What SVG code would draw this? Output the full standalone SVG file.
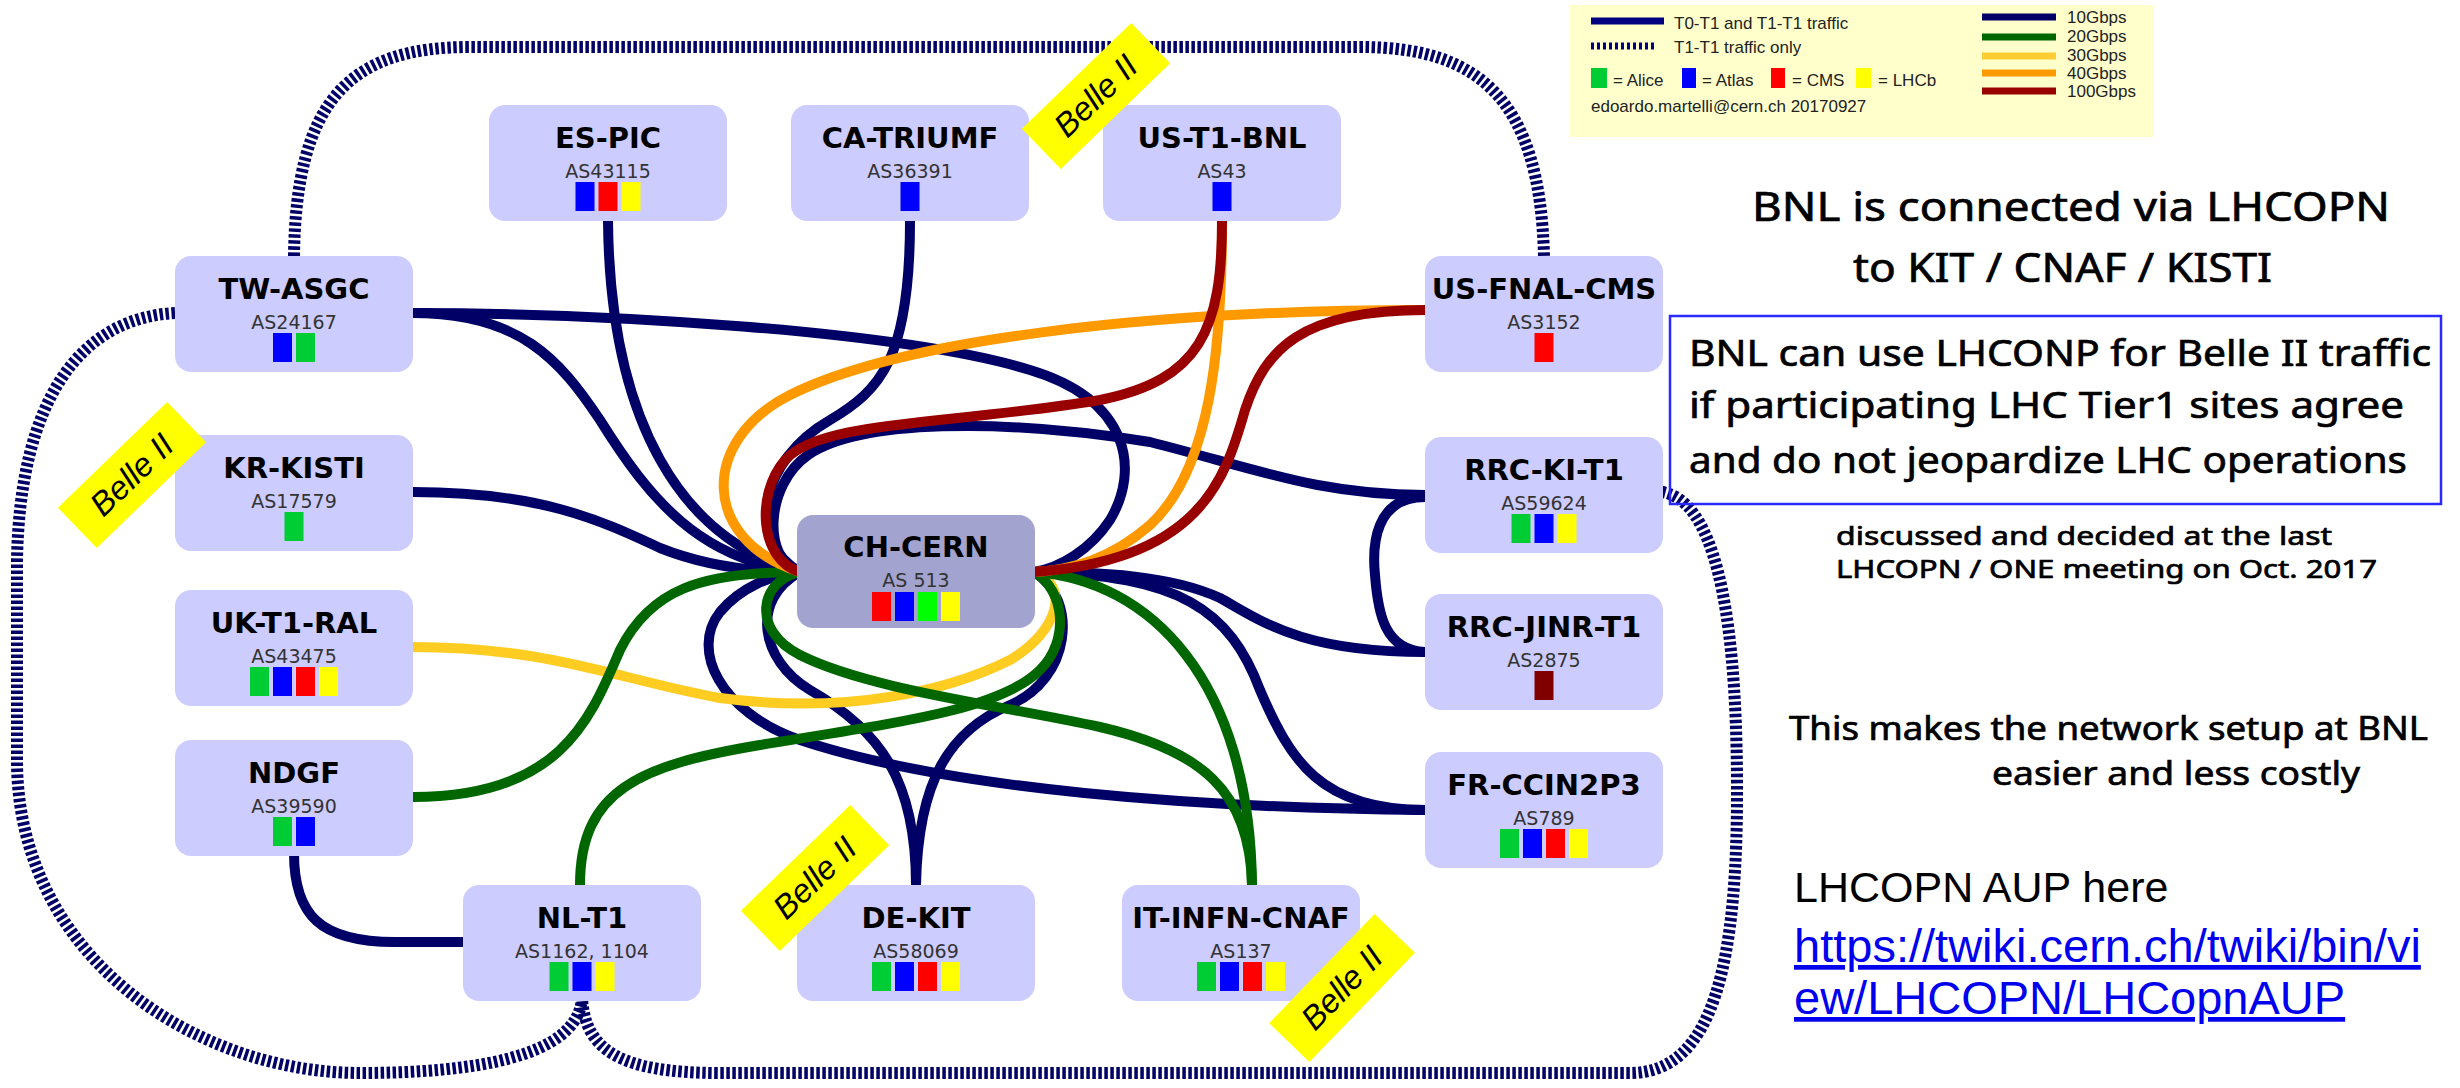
<svg xmlns="http://www.w3.org/2000/svg" width="2460" height="1088" viewBox="0 0 2460 1088">
<style>
.bx{fill:#ccccff}
.cern{fill:#a3a3d0}
.nm{font-family:"DejaVu Sans",sans-serif;font-weight:bold;font-size:29px;text-anchor:middle;fill:#000}
.as{font-family:"DejaVu Sans",sans-serif;font-size:19px;text-anchor:middle;fill:#333}
.al{fill:#00cc33}.at{fill:#0000ff}.cm{fill:#ff0000}.lh{fill:#ffff00}.al2{fill:#00ff00}.mr{fill:#800000}
.c{fill:none;stroke-width:10;stroke-linecap:butt}
.g10{stroke:#000066}.g20{stroke:#006600}.g30{stroke:#ffcc22}.g40{stroke:#ff9900}.g100{stroke:#990000}
.dash{fill:none;stroke:#000066;stroke-width:12;stroke-dasharray:3.5 2.5}
.lg{font-family:"Liberation Sans",Arial,sans-serif;font-size:17px;fill:#222}
.cm2{font-family:"Noto Sans","DejaVu Sans",sans-serif;fill:#000;stroke:#000;stroke-width:0.7}
.aup{font-family:"Liberation Sans",Arial,sans-serif}
</style>
<defs>
<g id="belle"><rect x="-76" y="-28" width="152" height="56" fill="#ffff00"/><text x="0" y="11" font-family="Liberation Sans, Arial, sans-serif" font-style="italic" font-size="33" text-anchor="middle" fill="#000">Belle II</text></g>
</defs>
<rect width="2460" height="1088" fill="#ffffff"/>

<g id="connectors">
  <!-- T1-T1 only dashed loops -->
  <path class="dash" d="M294,256 C296,100 350,47 470,47 L1360,47 C1480,47 1540,100 1544,256"/>
  <path class="dash" d="M175,313 C80,318 20,400 17,560 L17,760 C17,960 200,1073 360,1073 C470,1073 578,1058 582,998"/>
  <path class="dash" d="M1662,492 C1712,500 1736,600 1737,780 C1738,960 1715,1073 1630,1073 L720,1073 C620,1073 585,1050 582,998"/>
  <!-- 10G -->
  <path class="c g10" d="M608,221 C610,420 680,540 800,572"/>
  <path class="c g10" d="M910,221 C910,360 880,390 830,420 C760,460 745,540 800,572"/>
  <path class="c g10" d="M413,313 C520,313 560,360 600,420 C650,500 700,560 800,572"/>
  <path class="c g10" d="M413,313 C600,313 900,330 1030,370 C1130,400 1140,470 1110,520 C1090,550 1060,568 1034,572"/>
  <path class="c g10" d="M413,492 C540,492 600,520 660,548 C710,568 760,572 800,572"/>
  <path class="c g10" d="M1425,495 C1320,495 1260,470 1150,442 C1000,418 860,420 808,455 C765,485 762,560 800,572"/>
  <path class="c g10" d="M1425,497 C1375,497 1372,545 1375,575 C1378,615 1385,650 1425,652"/>
  <path class="c g10" d="M1425,652 C1300,652 1260,620 1220,598 C1170,575 1100,572 1034,572"/>
  <path class="c g10" d="M1425,810 C1320,810 1290,760 1260,690 C1230,610 1180,575 1034,572"/>
  <path class="c g10" d="M1425,810 C1200,808 950,790 800,740 C720,712 690,650 720,612 C740,588 770,575 800,572"/>
  <path class="c g10" d="M916,885 C916,780 880,730 810,690 C760,660 750,600 800,572"/>
  <path class="c g10" d="M916,885 C918,780 950,730 1010,705 C1070,680 1080,600 1034,572"/>
  <path class="c g10" d="M294,853 C294,915 320,942 395,942 L465,942"/>
  <!-- 30G -->
  <path class="c g30" d="M413,647 C550,647 620,680 720,698 C850,715 950,690 1010,660 C1060,630 1070,585 1034,572"/>
  <!-- 20G -->
  <path class="c g20" d="M413,797 C560,797 590,720 620,650 C650,590 700,572 800,572"/>
  <path class="c g20" d="M580,885 C580,790 640,765 760,745 C900,722 1000,710 1040,670 C1070,640 1065,590 1034,572"/>
  <path class="c g20" d="M800,572 C760,580 750,630 800,655 C870,690 1000,705 1100,727 C1200,750 1250,790 1252,885"/>
  <path class="c g20" d="M1034,572 C1150,580 1250,680 1252,885"/>
  <!-- 40G -->
  <path class="c g40" d="M1425,310 C1150,310 900,340 790,395 C700,440 700,540 800,572"/>
  <path class="c g40" d="M1222,221 C1222,350 1210,470 1150,525 C1110,560 1070,570 1034,572"/>
  <!-- 100G -->
  <path class="c g100" d="M1222,221 C1222,330 1200,380 1100,400 C950,425 820,420 785,460 C755,495 760,560 800,572"/>
  <path class="c g100" d="M1425,310 C1300,310 1265,350 1245,410 C1225,480 1200,560 1034,572"/>
</g>

<g id="n-es-pic"><rect class="bx" x="489" y="105" width="238" height="116" rx="16"/><text class="nm" x="608" y="148">ES-PIC</text><text class="as" x="608" y="178">AS43115</text><rect class="at" x="575.5" y="182" width="19" height="29"/><rect class="cm" x="598.5" y="182" width="19" height="29"/><rect class="lh" x="621.5" y="182" width="19" height="29"/></g>
<g id="n-ca-triumf"><rect class="bx" x="791" y="105" width="238" height="116" rx="16"/><text class="nm" x="910" y="148">CA-TRIUMF</text><text class="as" x="910" y="178">AS36391</text><rect class="at" x="900.5" y="182" width="19" height="29"/></g>
<g id="n-us-t1-bnl"><rect class="bx" x="1103" y="105" width="238" height="116" rx="16"/><text class="nm" x="1222" y="148">US-T1-BNL</text><text class="as" x="1222" y="178">AS43</text><rect class="at" x="1212.5" y="182" width="19" height="29"/></g>
<g id="n-tw-asgc"><rect class="bx" x="175" y="256" width="238" height="116" rx="16"/><text class="nm" x="294" y="299">TW-ASGC</text><text class="as" x="294" y="329">AS24167</text><rect class="at" x="273" y="333" width="19" height="29"/><rect class="al" x="296" y="333" width="19" height="29"/></g>
<g id="n-us-fnal-cms"><rect class="bx" x="1425" y="256" width="238" height="116" rx="16"/><text class="nm" x="1544" y="299">US-FNAL-CMS</text><text class="as" x="1544" y="329">AS3152</text><rect class="cm" x="1534.5" y="333" width="19" height="29"/></g>
<g id="n-kr-kisti"><rect class="bx" x="175" y="435" width="238" height="116" rx="16"/><text class="nm" x="294" y="478">KR-KISTI</text><text class="as" x="294" y="508">AS17579</text><rect class="al" x="284.5" y="512" width="19" height="29"/></g>
<g id="n-rrc-ki-t1"><rect class="bx" x="1425" y="437" width="238" height="116" rx="16"/><text class="nm" x="1544" y="480">RRC-KI-T1</text><text class="as" x="1544" y="510">AS59624</text><rect class="al" x="1511.5" y="514" width="19" height="29"/><rect class="at" x="1534.5" y="514" width="19" height="29"/><rect class="lh" x="1557.5" y="514" width="19" height="29"/></g>
<g id="n-ch-cern"><rect class="cern" x="797" y="515" width="238" height="113" rx="16"/><text class="nm" x="916" y="557">CH-CERN</text><text class="as" x="916" y="587">AS 513</text><rect class="cm" x="872" y="592" width="19" height="29"/><rect class="at" x="895" y="592" width="19" height="29"/><rect class="al2" x="918" y="592" width="19" height="29"/><rect class="lh" x="941" y="592" width="19" height="29"/></g>
<g id="n-uk-t1-ral"><rect class="bx" x="175" y="590" width="238" height="116" rx="16"/><text class="nm" x="294" y="633">UK-T1-RAL</text><text class="as" x="294" y="663">AS43475</text><rect class="al" x="250" y="667" width="19" height="29"/><rect class="at" x="273" y="667" width="19" height="29"/><rect class="cm" x="296" y="667" width="19" height="29"/><rect class="lh" x="319" y="667" width="19" height="29"/></g>
<g id="n-rrc-jinr-t1"><rect class="bx" x="1425" y="594" width="238" height="116" rx="16"/><text class="nm" x="1544" y="637">RRC-JINR-T1</text><text class="as" x="1544" y="667">AS2875</text><rect class="mr" x="1534.5" y="671" width="19" height="29"/></g>
<g id="n-ndgf"><rect class="bx" x="175" y="740" width="238" height="116" rx="16"/><text class="nm" x="294" y="783">NDGF</text><text class="as" x="294" y="813">AS39590</text><rect class="al" x="273" y="817" width="19" height="29"/><rect class="at" x="296" y="817" width="19" height="29"/></g>
<g id="n-fr-ccin2p3"><rect class="bx" x="1425" y="752" width="238" height="116" rx="16"/><text class="nm" x="1544" y="795">FR-CCIN2P3</text><text class="as" x="1544" y="825">AS789</text><rect class="al" x="1500" y="829" width="19" height="29"/><rect class="at" x="1523" y="829" width="19" height="29"/><rect class="cm" x="1546" y="829" width="19" height="29"/><rect class="lh" x="1569" y="829" width="19" height="29"/></g>
<g id="n-nl-t1"><rect class="bx" x="463" y="885" width="238" height="116" rx="16"/><text class="nm" x="582" y="928">NL-T1</text><text class="as" x="582" y="958">AS1162, 1104</text><rect class="al" x="549.5" y="962" width="19" height="29"/><rect class="at" x="572.5" y="962" width="19" height="29"/><rect class="lh" x="595.5" y="962" width="19" height="29"/></g>
<g id="n-de-kit"><rect class="bx" x="797" y="885" width="238" height="116" rx="16"/><text class="nm" x="916" y="928">DE-KIT</text><text class="as" x="916" y="958">AS58069</text><rect class="al" x="872" y="962" width="19" height="29"/><rect class="at" x="895" y="962" width="19" height="29"/><rect class="cm" x="918" y="962" width="19" height="29"/><rect class="lh" x="941" y="962" width="19" height="29"/></g>
<g id="n-it-infn-cnaf"><rect class="bx" x="1122" y="885" width="238" height="116" rx="16"/><text class="nm" x="1241" y="928">IT-INFN-CNAF</text><text class="as" x="1241" y="958">AS137</text><rect class="al" x="1197" y="962" width="19" height="29"/><rect class="at" x="1220" y="962" width="19" height="29"/><rect class="cm" x="1243" y="962" width="19" height="29"/><rect class="lh" x="1266" y="962" width="19" height="29"/></g>

<g id="belle-labels">
  <use href="#belle" transform="translate(1096,96) rotate(-44)"/>
  <use href="#belle" transform="translate(132,475) rotate(-44)"/>
  <use href="#belle" transform="translate(815,878) rotate(-44)"/>
  <use href="#belle" transform="translate(1342,988) rotate(-46)"/>
</g>

<g id="legend">
  <rect x="1570" y="5" width="583" height="132" fill="#ffffcc"/>
  <line x1="1591" y1="21" x2="1664" y2="21" stroke="#000080" stroke-width="7"/>
  <text class="lg" x="1674" y="29">T0-T1 and T1-T1 traffic</text>
  <line x1="1591" y1="46" x2="1655" y2="46" stroke="#000080" stroke-width="7" stroke-dasharray="3 3"/>
  <text class="lg" x="1674" y="53">T1-T1 traffic only</text>
  <rect class="al" x="1591" y="68" width="16" height="20"/><text class="lg" x="1613" y="86">= Alice</text>
  <rect class="at" x="1682" y="68" width="14" height="20"/><text class="lg" x="1702" y="86">= Atlas</text>
  <rect class="cm" x="1771" y="68" width="14" height="20"/><text class="lg" x="1792" y="86">= CMS</text>
  <rect class="lh" x="1856" y="68" width="15" height="20"/><text class="lg" x="1878" y="86">= LHCb</text>
  <text class="lg" x="1591" y="112">edoardo.martelli@cern.ch 20170927</text>
  <line x1="1982" y1="17" x2="2056" y2="17" stroke="#000066" stroke-width="7"/><text class="lg" x="2067" y="23">10Gbps</text>
  <line x1="1982" y1="37" x2="2056" y2="37" stroke="#006600" stroke-width="7"/><text class="lg" x="2067" y="42">20Gbps</text>
  <line x1="1982" y1="56" x2="2056" y2="56" stroke="#ffcc33" stroke-width="7"/><text class="lg" x="2067" y="61">30Gbps</text>
  <line x1="1982" y1="73" x2="2056" y2="73" stroke="#ff9900" stroke-width="7"/><text class="lg" x="2067" y="79">40Gbps</text>
  <line x1="1982" y1="91" x2="2056" y2="91" stroke="#990000" stroke-width="7"/><text class="lg" x="2067" y="97">100Gbps</text>
</g>

<g id="notes">
  <text class="cm2" x="1752" y="221" font-size="40" textLength="638" lengthAdjust="spacingAndGlyphs">BNL is connected via LHCOPN</text>
  <text class="cm2" x="1853" y="282" font-size="40" textLength="419" lengthAdjust="spacingAndGlyphs">to KIT / CNAF / KISTI</text>
  <rect x="1670" y="316" width="771" height="188" fill="none" stroke="#2a2aff" stroke-width="2.5"/>
  <text class="cm2" x="1689" y="366" font-size="37" textLength="742" lengthAdjust="spacingAndGlyphs">BNL can use LHCONP for Belle II traffic</text>
  <text class="cm2" x="1689" y="418" font-size="37" textLength="715" lengthAdjust="spacingAndGlyphs">if participating LHC Tier1 sites agree</text>
  <text class="cm2" x="1689" y="473" font-size="37" textLength="718" lengthAdjust="spacingAndGlyphs">and do not jeopardize LHC operations</text>
  <text class="cm2" x="1836" y="545" font-size="26" textLength="496" lengthAdjust="spacingAndGlyphs">discussed and decided at the last</text>
  <text class="cm2" x="1836" y="578" font-size="26" textLength="541" lengthAdjust="spacingAndGlyphs">LHCOPN / ONE meeting on Oct. 2017</text>
  <text class="cm2" x="1789" y="740" font-size="32" textLength="639" lengthAdjust="spacingAndGlyphs">This makes the network setup at BNL</text>
  <text class="cm2" x="1992" y="785" font-size="32" textLength="368" lengthAdjust="spacingAndGlyphs">easier and less costly</text>
  <text class="aup" x="1794" y="902" font-size="43" fill="#000">LHCOPN AUP here</text>
  <text class="aup" x="1794" y="962" font-size="47" fill="#0000ee" text-decoration="underline">https://twiki.cern.ch/twiki/bin/vi</text>
  <text class="aup" x="1794" y="1014" font-size="47" fill="#0000ee" text-decoration="underline">ew/LHCOPN/LHCopnAUP</text>
</g>
</svg>
